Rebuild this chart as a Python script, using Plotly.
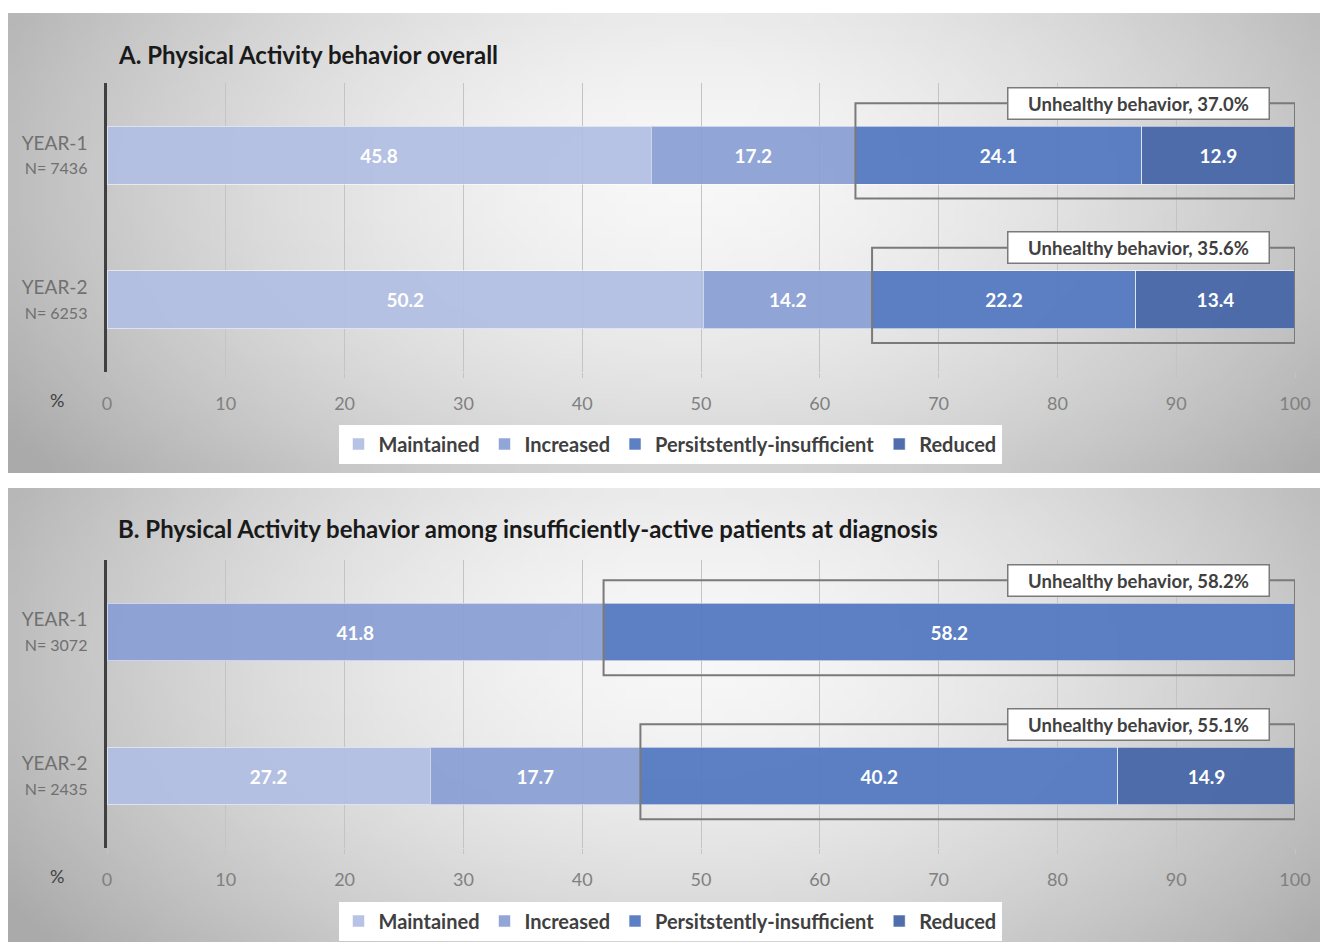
import struct, zlib, base64
import plotly.graph_objects as go

# ---------------- data ----------------
categories = ["YEAR-1", "YEAR-2"]
series_names = ["Maintained", "Increased", "Persitstently-insufficient", "Reduced"]

n_a = ["N= 7436", "N= 6253"]
a_maintained = [45.8, 50.2]
a_increased = [17.2, 14.2]
a_persistent = [24.1, 22.2]
a_reduced = [12.9, 13.4]

n_b = ["N= 3072", "N= 2435"]
b_maintained = [0.0, 27.2]
b_increased = [41.8, 17.7]
b_persistent = [58.2, 40.2]
b_reduced = [0.0, 14.9]

x_ticks = [0, 10, 20, 30, 40, 50, 60, 70, 80, 90, 100]

title_a = "A. Physical Activity behavior overall"
title_b = "B. Physical Activity behavior among insufficiently-active patients at diagnosis"

# ---------------- style ----------------
colors = ["rgba(178,190,226,0.93)", "rgba(138,158,212,0.93)",
          "rgba(84,121,193,0.95)", "rgba(70,102,166,0.95)"]
FONT = "Lato, 'Open Sans', sans-serif"
W, H = 1320, 942


def png_uri(w, h, fn):
    rows = []
    for j in range(h):
        row = bytearray([0])
        for i in range(w):
            v = max(0, min(255, int(fn(i / (w - 1), j / (h - 1)))))
            row += bytes([v, v, v])
        rows.append(bytes(row))
    raw = b"".join(rows)

    def chunk(t, d):
        c = struct.pack(">I", len(d)) + t + d
        return c + struct.pack(">I", zlib.crc32(t + d) & 0xffffffff)

    png = b"\x89PNG\r\n\x1a\n" + chunk(b"IHDR", struct.pack(">IIBBBBB", w, h, 8, 2, 0, 0, 0))
    png += chunk(b"IDAT", zlib.compress(raw, 9)) + chunk(b"IEND", b"")
    return "data:image/png;base64," + base64.b64encode(png).decode()


def shade(u, v):
    dx = (u - 0.52) / 0.52
    dy = (v - 0.35) / 0.9
    d = (dx * dx + dy * dy) ** 0.5
    return 248 - 58 * min(d, 1.2) ** 1.6


bg = png_uri(120, 40, shade)


def px_x(p):
    return p / W


def px_y(p):
    return 1 - p / H


fig = go.Figure()

panels = [
    dict(vals=[a_maintained, a_increased, a_persistent, a_reduced], n=n_a,
         xa="x", ya="y", legend="legend", grid=(83, 372)),
    dict(vals=[b_maintained, b_increased, b_persistent, b_reduced], n=n_b,
         xa="x2", ya="y2", legend="legend2", grid=(560, 848)),
]

for p in panels:
    for k, name in enumerate(series_names):
        vals = p["vals"][k]
        fig.add_trace(go.Bar(
            y=categories, x=vals, orientation="h", name=name,
            marker=dict(color=colors[k], line=dict(color="rgba(255,255,255,0.55)", width=1)),
            text=[f"{v:.1f}" if v > 0 else "" for v in vals],
            textposition="inside", insidetextanchor="middle", textangle=0,
            constraintext="none",
            textfont=dict(family=FONT, size=19, color="white", weight="bold"),
            xaxis=p["xa"], yaxis=p["ya"], legend=p["legend"],
            hoverinfo="skip",
        ))

axis_common_x = dict(range=[0, 100], tickvals=x_ticks, showgrid=True, gridcolor="#c4c4c4",
                     gridwidth=1, zeroline=False, showline=False, ticks="outside",
                     ticklen=5, tickcolor="#c4c4c4", ticklabelstandoff=10, automargin=False,
                     tickfont=dict(family=FONT, size=18, color="#808080"), fixedrange=True)

for idx, p in enumerate(panels):
    sfx = "" if idx == 0 else "2"
    g0, g1 = p["grid"]
    ticktext = [f"{c}<br><span style='font-size:16px'>{n}</span>"
                for c, n in zip(categories, p["n"])]
    fig.update_layout(**{
        f"xaxis{sfx}": dict(axis_common_x, domain=[px_x(107), px_x(1295)],
                            anchor=f"y{sfx}"),
        f"yaxis{sfx}": dict(domain=[px_y(g1), px_y(g0)], anchor=f"x{sfx}",
                            type="category", categoryorder="array", categoryarray=categories,
                            autorange="reversed", showline=True, linecolor="#404040",
                            linewidth=2.5, showgrid=False, tickvals=categories,
                            ticktext=ticktext, ticks="", ticklabelstandoff=13,
                            automargin=False,
                            tickfont=dict(family=FONT, size=19, color="#707070"),
                            fixedrange=True),
    })

    # unhealthy brackets
    for i, c in enumerate(categories):
        start = p["vals"][0][i] + p["vals"][1][i]
        unhealthy = p["vals"][2][i] + p["vals"][3][i]
        fig.add_shape(type="rect", xref=f"x{sfx}", yref=f"y{sfx}",
                      x0=start, x1=100, y0=i - 0.36, y1=i + 0.30,
                      line=dict(color="#7a7a7a", width=2), fillcolor="rgba(0,0,0,0)",
                      layer="above")
        fig.add_annotation(xref=f"x{sfx}", yref=f"y{sfx}", x=97.9, y=i - 0.36,
                           xanchor="right", yanchor="middle",
                           text=f"Unhealthy behavior, {unhealthy:.1f}%",
                           showarrow=False, bgcolor="white", bordercolor="#7a7a7a",
                           borderwidth=1.5, borderpad=4, width=252, height=22,
                           align="center",
                           font=dict(family=FONT, size=18.5, color="#404040", weight="bold"))

    # percent label
    fig.add_annotation(xref="paper", yref="paper", x=px_x(57),
                       y=px_y(400 if idx == 0 else 876), text="%", showarrow=False,
                       xanchor="center", yanchor="middle",
                       font=dict(family=FONT, size=18, color="#404040"))

# titles
fig.add_annotation(xref="paper", yref="paper", x=px_x(116), y=px_y(55), text=f"<b>{title_a}</b>",
                   showarrow=False, xanchor="left", yanchor="middle",
                   font=dict(family=FONT, size=24, color="#1a1a1a"))
fig.add_annotation(xref="paper", yref="paper", x=px_x(116), y=px_y(528), text=f"<b>{title_b}</b>",
                   showarrow=False, xanchor="left", yanchor="middle",
                   font=dict(family=FONT, size=24, color="#1a1a1a"))

# backgrounds
fig.add_layout_image(source=bg, xref="paper", yref="paper", x=px_x(8), y=px_y(13),
                     sizex=px_x(1312), sizey=460 / H, sizing="stretch",
                     xanchor="left", yanchor="top", layer="below")
fig.add_layout_image(source=bg, xref="paper", yref="paper", x=px_x(8), y=px_y(488),
                     sizex=px_x(1312), sizey=454 / H, sizing="stretch",
                     xanchor="left", yanchor="top", layer="below")

legend_common = dict(orientation="h", xanchor="center", yanchor="middle", bgcolor="white",
                     font=dict(family=FONT, size=20, color="#404040", weight="bold"),
                     itemclick=False, itemdoubleclick=False, traceorder="normal",
                     itemwidth=30)

fig.update_layout(
    width=W, height=H, autosize=False,
    margin=dict(l=0, r=0, t=0, b=0, autoexpand=False),
    paper_bgcolor="white", plot_bgcolor="rgba(0,0,0,0)",
    barmode="stack", bargap=0.6, showlegend=True,
    legend=dict(legend_common, x=px_x(670), y=px_y(444)),
    legend2=dict(legend_common, x=px_x(670), y=px_y(921)),
)

fig.write_html("out.html",
               config={"responsive": False, "displayModeBar": False},
               post_script="document.body.style.margin='0';document.body.style.overflow='hidden';")
